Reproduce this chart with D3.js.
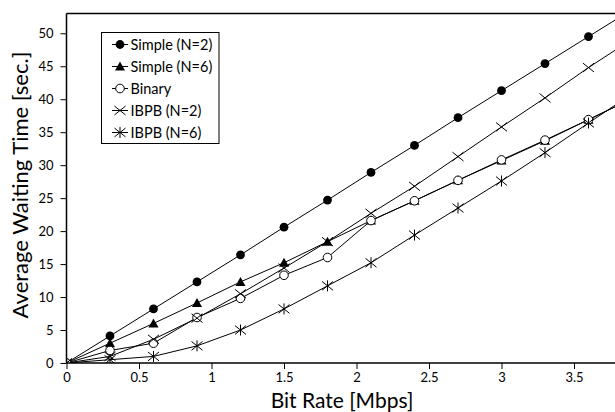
<!doctype html>
<html>
  <head>
    <meta charset="utf-8">
    <title>Average Waiting Time</title>
    <script src="https://cdnjs.cloudflare.com/ajax/libs/d3/7.8.5/d3.min.js"></script>
    <style>
      body { margin: 0; background: #fff; }
      text { font-family: Lato, "Open Sans", sans-serif; fill: #000; }
    </style>
  </head>
  <body>
    <div id="chart"></div>
    <script>
      // data
      const bitRate = [0, 0.3, 0.6, 0.9, 1.2, 1.5, 1.8, 2.1, 2.4, 2.7, 3.0, 3.3, 3.6, 3.9];
      const simple2 = [0, 4.1, 8.2, 12.3, 16.4, 20.6, 24.7, 28.9, 33.0, 37.2, 41.3, 45.4, 49.5, 53.6];
      const simple6 = [0, 3.0, 6.0, 9.1, 12.3, 15.2, 18.4, 21.6, 24.6, 27.7, 30.7, 33.7, 36.9, 40.1];
      const binary  = [0, 1.9, 3.0, 6.9, 9.8, 13.3, 16.0, 21.6, 24.6, 27.7, 30.8, 33.8, 36.9, 40.1];
      const ibpb2   = [0, 1.0, 3.6, 6.8, 10.5, 14.4, 18.4, 22.7, 26.8, 31.3, 35.8, 40.2, 44.8, 49.1];
      const ibpb6   = [0, 0.5, 1.0, 2.6, 5.0, 8.2, 11.7, 15.2, 19.4, 23.5, 27.6, 31.9, 36.4, 40.8];
      const seriesNames = ['Simple (N=2)', 'Simple (N=6)', 'Binary', 'IBPB (N=2)', 'IBPB (N=6)'];
      const seriesMarks = ['dot', 'triangle', 'ring', 'cross', 'star'];
      const xTicks = [0, 0.5, 1, 1.5, 2, 2.5, 3, 3.5];
      const yTicks = [0, 5, 10, 15, 20, 25, 30, 35, 40, 45, 50];

      const allSeries = [simple2, simple6, binary, ibpb2, ibpb6];

      const width = 615, height = 412;
      const svg = d3.select('#chart').append('svg')
        .attr('width', width)
        .attr('height', height);

      const x = d3.scaleLinear().domain([0, 4]).range([66.5, 646.5]);
      const y = d3.scaleLinear().domain([0, 53]).range([363, 13.5]);

      svg.append('clipPath').attr('id', 'plot-clip')
        .append('rect')
        .attr('x', x(0)).attr('y', y(53))
        .attr('width', x(4) - x(0)).attr('height', y(0) - y(53));

      // marker drawing
      function drawMarker(g, type, cx, cy) {
        if (type === 'dot') {
          g.append('circle').attr('cx', cx).attr('cy', cy).attr('r', 4.4).attr('fill', '#000');
        } else if (type === 'triangle') {
          const s = 5;
          g.append('path')
            .attr('d', `M${cx},${cy - s}L${cx + s},${cy + s * 0.8}L${cx - s},${cy + s * 0.8}Z`)
            .attr('fill', '#000');
        } else if (type === 'ring') {
          g.append('circle').attr('cx', cx).attr('cy', cy).attr('r', 4.3)
            .attr('fill', '#fff').attr('stroke', '#000').attr('stroke-width', 1);
        } else if (type === 'cross') {
          const s = 5.5;
          g.append('path')
            .attr('d', `M${cx - s},${cy - s * 0.8}L${cx + s},${cy + s * 0.8}M${cx - s},${cy + s * 0.8}L${cx + s},${cy - s * 0.8}`)
            .attr('stroke', '#000').attr('stroke-width', 1).attr('fill', 'none');
        } else if (type === 'star') {
          const s = 5.5;
          g.append('path')
            .attr('d', `M${cx - s},${cy - s * 0.8}L${cx + s},${cy + s * 0.8}M${cx - s},${cy + s * 0.8}L${cx + s},${cy - s * 0.8}M${cx},${cy - s}L${cx},${cy + s}`)
            .attr('stroke', '#000').attr('stroke-width', 1).attr('fill', 'none');
        }
      }

      const plot = svg.append('g').attr('clip-path', 'url(#plot-clip)');

      const line = d3.line()
        .x((d, i) => x(bitRate[i]))
        .y(d => y(d));

      allSeries.forEach((vals, k) => {
        plot.append('path')
          .attr('d', line(vals))
          .attr('fill', 'none')
          .attr('stroke', '#000')
          .attr('stroke-width', 1);
      });

      allSeries.forEach((vals, k) => {
        const g = plot.append('g');
        vals.forEach((v, i) => drawMarker(g, seriesMarks[k], x(bitRate[i]), y(v)));
      });

      // axes
      const xAxis = svg.append('g')
        .attr('transform', `translate(0,${y(0)})`)
        .call(d3.axisBottom(x).tickValues(xTicks).tickSize(6).tickPadding(4).tickFormat(d3.format('')));
      xAxis.select('.domain').attr('stroke-width', 1.5).attr('d', `M${x(0)},0H${width}`);
      xAxis.selectAll('text').style('font-size', '13px');

      const yAxis = svg.append('g')
        .attr('transform', `translate(${x(0)},0)`)
        .call(d3.axisLeft(y).tickValues(yTicks).tickSize(6).tickPadding(7));
      yAxis.select('.domain').attr('stroke-width', 1.5).attr('d', `M0,${y(0)}V${y(53)}`);
      yAxis.selectAll('text').style('font-size', '13px');

      // top border of plot area
      svg.append('line')
        .attr('x1', x(0)).attr('x2', width)
        .attr('y1', y(53)).attr('y2', y(53))
        .attr('stroke', '#000').attr('stroke-width', 1.5);

      // axis titles
      svg.append('text')
        .attr('x', 342).attr('y', 407.5)
        .attr('text-anchor', 'middle')
        .style('font-size', '21px')
        .text('Bit Rate [Mbps]');

      svg.append('text')
        .attr('transform', `translate(28,185) rotate(-90)`)
        .attr('text-anchor', 'middle')
        .style('font-size', '22px')
        .text('Average Waiting Time [sec.]');

      // legend
      const legend = svg.append('g');
      legend.append('rect')
        .attr('x', 101.5).attr('y', 32.5)
        .attr('width', 117.5).attr('height', 111)
        .attr('fill', '#fff').attr('stroke', '#000').attr('stroke-width', 1);

      seriesNames.forEach((name, k) => {
        const ly = 44.5 + k * 22;
        legend.append('line')
          .attr('x1', 112).attr('x2', 128)
          .attr('y1', ly).attr('y2', ly)
          .attr('stroke', '#000').attr('stroke-width', 1);
        drawMarker(legend, seriesMarks[k], 120, ly);
        legend.append('text')
          .attr('x', 130.5).attr('y', ly)
          .attr('dy', '0.35em')
          .style('font-size', '14.5px')
          .text(name);
      });
    </script>
  </body>
</html>
